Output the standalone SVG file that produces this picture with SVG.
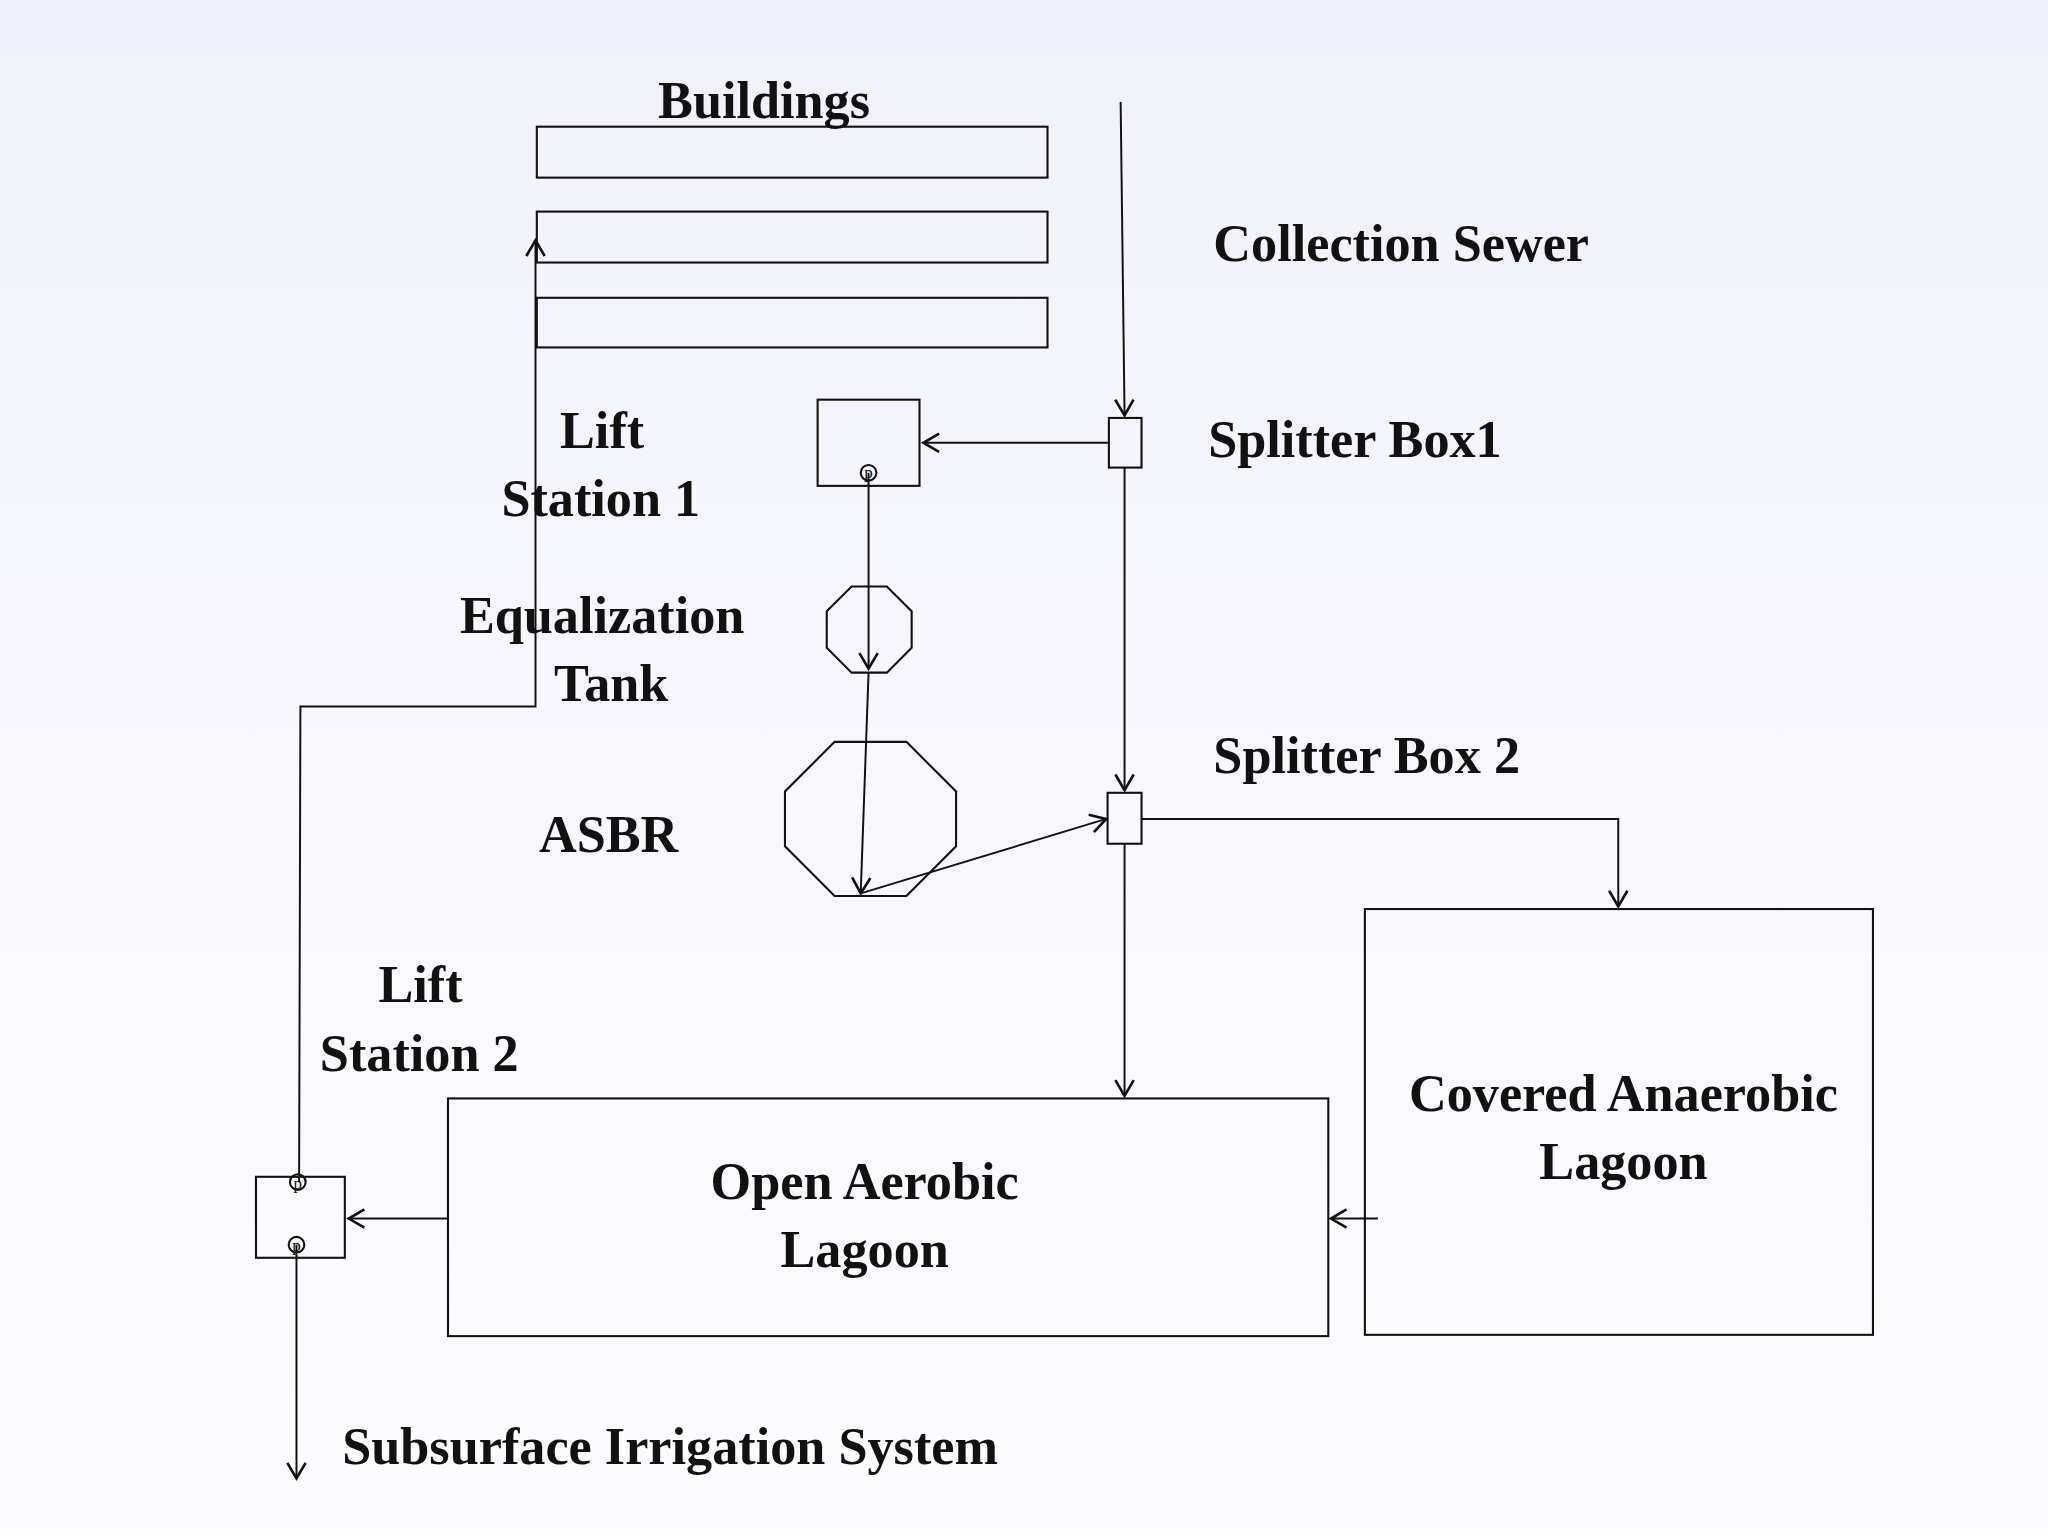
<svg xmlns="http://www.w3.org/2000/svg" width="2048" height="1536" viewBox="0 0 2048 1536">
<defs>
<linearGradient id="bg" x1="0" y1="0" x2="0" y2="1"><stop offset="0" stop-color="#f1f1fb"/><stop offset="1" stop-color="#fdfdff"/></linearGradient>
<marker id="a" markerWidth="20" markerHeight="20" refX="14" refY="8" orient="auto" markerUnits="userSpaceOnUse"><path d="M2,1 L14,8 L2,15" fill="none" stroke="#111" stroke-width="2"/></marker>
<style>
.s{fill:none;stroke:#111;stroke-width:1.6}
.c{fill:none;stroke:#111;stroke-width:1.5;marker-end:url(#a)}
text{font-family:"Liberation Serif",serif;font-weight:bold;font-size:40px;fill:#111}
.m{text-anchor:middle}
.p{font-size:13px;font-weight:normal}
</style>
</defs>
<rect width="2048" height="1536" fill="url(#bg)"/>
<g transform="scale(1.3061)">
<g id="buildings"><text x="585" y="90" class="m">Buildings</text>
<rect class="s" x="411" y="97" width="391" height="39"/><rect class="s" x="411" y="162" width="391" height="39"/><rect class="s" x="411" y="228" width="391" height="38"/></g>
<g id="labels"><text x="929" y="200">Collection Sewer</text></g>
<g id="splitter1"><rect class="s" x="849" y="320" width="25" height="38"/><text x="925" y="350">Splitter Box1</text></g>
<g id="lift1"><rect class="s" x="626" y="306" width="78" height="66"/><circle class="s" cx="665" cy="362" r="6"/><text x="665" y="366" class="m p">p</text><text x="461" y="343" class="m">Lift</text><text x="460" y="395" class="m">Station 1</text></g>
<g id="eq"><polygon class="s" points="652,449 679,449 698,468 698,496 679,515 652,515 633,496 633,468"/><text x="461" y="485" class="m">Equalization</text><text x="468" y="537" class="m">Tank</text></g>
<g id="asbr"><polygon class="s" points="639,568 694,568 732,606 732,648 694,686 639,686 601,648 601,606"/><text x="466" y="652" class="m">ASBR</text></g>
<g id="splitter2"><rect class="s" x="848" y="607" width="26" height="39"/><text x="929" y="592">Splitter Box 2</text></g>
<g id="covered"><rect class="s" x="1045" y="696" width="389" height="326"/><text x="1243" y="851" class="m">Covered Anaerobic</text><text x="1243" y="903" class="m">Lagoon</text></g>
<g id="open"><rect class="s" x="343" y="841" width="674" height="182"/><text x="662" y="918" class="m">Open Aerobic</text><text x="662" y="970" class="m">Lagoon</text></g>
<g id="lift2"><rect class="s" x="196" y="901" width="68" height="62"/><circle class="s" cx="228" cy="905" r="6"/><circle class="s" cx="227" cy="953" r="6"/><text x="228" y="910" class="m p">p</text><text x="227" y="958" class="m p">p</text><text x="322" y="767" class="m">Lift</text><text x="321" y="820" class="m">Station 2</text></g>
<g id="irr"><text x="262" y="1121">Subsurface Irrigation System</text></g>
<g id="connectors">
<path class="c" d="M858,78 L861,318"/>
<path class="c" d="M849,339 L707,339"/>
<path class="c" d="M665,362 L665,512"/>
<path class="c" d="M665,515 L659,684"/>
<path class="c" d="M659,684 L847,627"/>
<path class="c" d="M861,358 L861,605"/>
<path class="c" d="M874,627 L1239,627 L1239,694"/>
<path class="c" d="M861,646 L861,839"/>
<path class="c" d="M1055,933 L1019,933"/>
<path class="c" d="M343,933 L267,933"/>
<path class="c" d="M229,905 L230,541 L410,541 L410,184"/>
<path class="c" d="M227,953 L227,1132"/>
</g>
</g>
</svg>
